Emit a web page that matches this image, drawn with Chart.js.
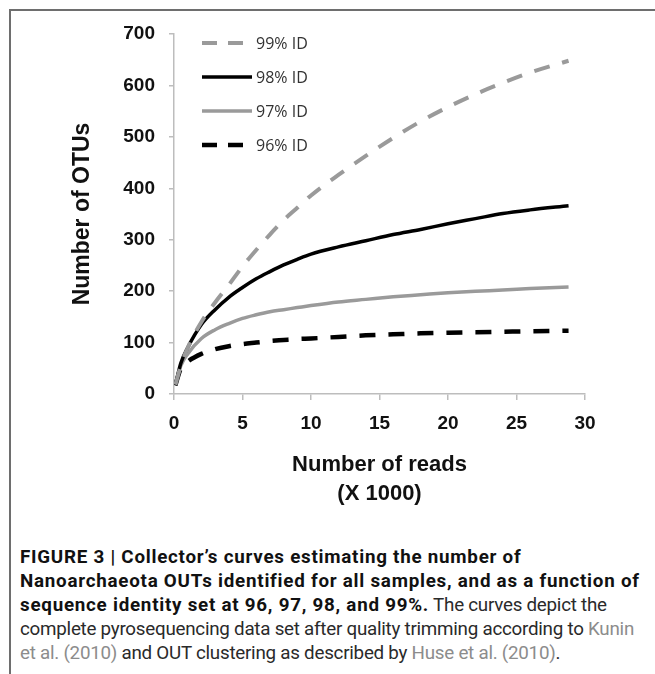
<!DOCTYPE html>
<html>
<head>
<meta charset="utf-8">
<script src="https://cdn.jsdelivr.net/npm/chart.js@4.4.1/dist/chart.umd.min.js"></script>
<style>
  html, body { margin: 0; padding: 0; background: #fff; }
  #frame {
    position: absolute; left: 9px; top: 9px; width: 646px; height: 665px;
    border-top: 2px solid #6e6e6e; border-left: 2px solid #6e6e6e;
  }
  #wrap { position: absolute; left: 0; top: 0; width: 655px; height: 520px; }
  #caption {
    position: absolute; left: 20px; top: 545px; width: 635px;
    font-family: Roboto, "Liberation Sans", sans-serif; font-size: 18.8px;
    line-height: 24px; color: #2a2a2a; white-space: nowrap; letter-spacing: -0.25px;
  }
  #caption b { color: #111; letter-spacing: 0.75px; }
  #caption .ref { color: #8c8c8c; }
</style>
</head>
<body>
<div id="frame"></div>
<div id="wrap"><canvas id="myChart" width="655" height="520"></canvas></div>
<div id="caption"><b>FIGURE 3 | Collector’s curves estimating the number of<br>Nanoarchaeota OUTs identified for all samples, and as a function of<br>sequence identity set at 96, 97, 98, and 99%.</b> The curves depict the<br>complete pyrosequencing data set after quality trimming according to <span class="ref">Kunin</span><br><span class="ref">et al. (2010)</span> and OUT clustering as described by <span class="ref">Huse et al. (2010)</span>.</div>
<script>
// reads (x 1000) and OTU counts
var reads = [0.1, 0.5, 1, 2, 3, 4, 5, 6, 7, 8, 9, 10, 12, 14, 16, 18, 20, 22, 24, 26, 28.8];
var id99 = [18, 55, 90, 140, 178, 212, 248, 280, 310, 338, 362, 386, 426, 463, 498, 530, 558, 583, 605, 625, 648];
var id98 = [17, 60, 90, 135, 164, 188, 207, 224, 238, 251, 262, 272, 286, 298, 310, 320, 331, 341, 351, 358, 366];
var id97 = [17, 55, 78, 108, 125, 137, 147, 154, 160, 164, 168, 172, 179, 184, 189, 193, 197, 200, 202, 205, 208];
var id96 = [17, 50, 63, 78, 87, 93, 97, 100, 103, 105, 107, 108, 111, 114, 116, 118, 119, 120, 121, 122, 123];
var yTicks = [0, 100, 200, 300, 400, 500, 600, 700];

function pts(arr) {
  return reads.map(function (r, i) { return { x: r, y: arr[i] }; });
}

var gray = '#9a9a9a';
var black = '#000000';

// legend drawn inside the plot, top left, like the original
var insideLegend = {
  id: 'insideLegend',
  afterDatasetsDraw: function (chart) {
    var ctx = chart.ctx;
    var sets = chart.data.datasets;
    ctx.save();
    for (var i = 0; i < sets.length; i++) {
      var ds = sets[i];
      var y = 43 + i * 34;
      var dashed = ds.borderDash && ds.borderDash.length;
      ctx.beginPath();
      ctx.strokeStyle = ds.borderColor;
      ctx.lineWidth = ds.borderWidth;
      ctx.setLineDash(dashed ? [15, 11] : []);
      ctx.moveTo(202, y);
      ctx.lineTo(dashed ? 243 : 252, y);
      ctx.stroke();
      ctx.setLineDash([]);
      ctx.fillStyle = '#333';
      ctx.font = '16px "Open Sans"';
      ctx.textBaseline = 'middle';
      ctx.fillText(ds.label, 256, y + 1);
    }
    ctx.restore();
  }
};

new Chart("myChart", {
  type: "line",
  data: {
    datasets: [{
      label: '99% ID',
      data: pts(id99),
      borderColor: gray,
      borderWidth: 4,
      borderDash: [16, 13],
      pointRadius: 0,
      cubicInterpolationMode: 'monotone'
    }, {
      label: '98% ID',
      data: pts(id98),
      borderColor: black,
      borderWidth: 3.5,
      pointRadius: 0,
      cubicInterpolationMode: 'monotone'
    }, {
      label: '97% ID',
      data: pts(id97),
      borderColor: gray,
      borderWidth: 3.5,
      pointRadius: 0,
      cubicInterpolationMode: 'monotone'
    }, {
      label: '96% ID',
      data: pts(id96),
      borderColor: black,
      borderWidth: 4.5,
      borderDash: [16, 13],
      pointRadius: 0,
      cubicInterpolationMode: 'monotone'
    }]
  },
  options: {
    responsive: false,
    animation: false,
    layout: {
      padding: { left: 69, right: 70, top: 34, bottom: 12 }
    },
    plugins: {
      legend: { display: false },
      title: { display: false },
      tooltip: { enabled: false }
    },
    scales: {
      x: {
        type: 'linear',
        min: 0,
        max: 30,
        afterFit: function (scale) { scale.height = 114; },
        ticks: {
          stepSize: 5,
          padding: 12,
          color: '#111',
          font: { family: 'Liberation Sans', size: 19, weight: 'bold' }
        },
        grid: {
          drawOnChartArea: false,
          color: '#bdbdbd',
          tickLength: 6,
          lineWidth: 1.5
        },
        border: { color: '#bdbdbd', width: 1.5 },
        title: {
          display: true,
          text: ['Number of reads', '(X 1000)'],
          color: '#111',
          padding: 0,
          font: { family: 'Liberation Sans', size: 22, weight: 'bold', lineHeight: 1.32 }
        }
      },
      y: {
        min: 0,
        max: 700,
        afterFit: function (scale) { scale.width = 105; },
        afterBuildTicks: function (scale) {
          scale.ticks = yTicks.map(function (v) { return { value: v }; });
        },
        ticks: {
          padding: 14,
          color: '#111',
          font: { family: 'Liberation Sans', size: 19, weight: 'bold' }
        },
        grid: {
          drawOnChartArea: false,
          color: '#bdbdbd',
          tickLength: 5,
          lineWidth: 1.5
        },
        border: { color: '#bdbdbd', width: 1.5 },
        title: {
          display: true,
          text: 'Number of OTUs',
          color: '#111',
          padding: 0,
          font: { family: 'Liberation Sans', size: 23, weight: 'bold' }
        }
      }
    }
  },
  plugins: [insideLegend]
});
</script>
</body>
</html>
